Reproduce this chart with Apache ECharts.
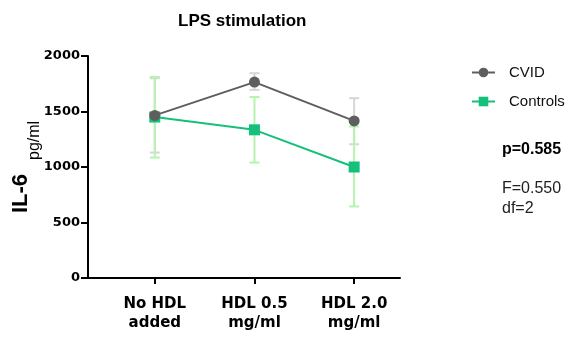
<!DOCTYPE html>
<html>
<head>
<meta charset="utf-8">
<script src="https://cdn.jsdelivr.net/npm/echarts@6/dist/echarts.min.js"></script>
<style>
  html, body { margin: 0; padding: 0; background: #fff; }
  #chart { width: 577px; height: 343px; }
</style>
</head>
<body>
<div id="chart"></div>
<script>
// 类别和数据
const categories = ["No HDL\nadded", "HDL 0.5\nmg/ml", "HDL 2.0\nmg/ml"];
const cvidMean = [1465, 1765, 1415];
const cvidLow = [1130, 1695, 1205];
const cvidHigh = [1800, 1845, 1620];
const ctrlMean = [1450, 1335, 1000];
const ctrlLow = [1085, 1040, 645];
const ctrlHigh = [1812, 1630, 1365];

const grey = "#5e5e5e";
const greyBar = "#d6d6d6";
const green = "#14c07a";
const greenBar = "#b6f3b0";

const chart = echarts.init(document.getElementById("chart"));

// 误差棒 (custom series)
function errorSeries(name, low, high, color) {
  return {
    type: "custom",
    name: name + "_err",
    z: 1,
    silent: true,
    data: low.map((v, i) => [i, v, high[i]]),
    renderItem: (params, api) => {
      const lo = api.coord([api.value(0), api.value(1)]);
      const hi = api.coord([api.value(0), api.value(2)]);
      const w = 5;
      const style = { stroke: color, lineWidth: 2, fill: null };
      return {
        type: "group",
        children: [
          { type: "line", shape: { x1: lo[0], y1: lo[1], x2: hi[0], y2: hi[1] }, style },
          { type: "line", shape: { x1: lo[0] - w, y1: lo[1], x2: lo[0] + w, y2: lo[1] }, style },
          { type: "line", shape: { x1: hi[0] - w, y1: hi[1], x2: hi[0] + w, y2: hi[1] }, style }
        ]
      };
    }
  };
}

const option = {
  animation: false,
  title: [
    {
      text: "LPS stimulation",
      left: 173,
      top: 8,
      textStyle: { fontFamily: "Liberation Sans", fontSize: 17, fontWeight: "bold", color: "#000" }
    },
    {
      text: "p=0.585",
      left: 497,
      top: 137,
      textStyle: { fontFamily: "Liberation Sans", fontSize: 16, fontWeight: "bold", color: "#000" }
    },
    {
      text: "F=0.550\ndf=2",
      left: 497,
      top: 174,
      textStyle: { fontFamily: "Liberation Sans", fontSize: 16, fontWeight: "normal", color: "#222", lineHeight: 20 }
    }
  ],
  legend: {
    orient: "vertical",
    left: 471,
    top: 65,
    padding: 0,
    itemGap: 14,
    itemWidth: 23,
    itemHeight: 12,
    data: ["CVID", "Controls"],
    textStyle: { fontFamily: "Liberation Sans", fontSize: 15, color: "#111", padding: [0, 0, 0, 9] }
  },
  grid: { left: 88, right: 177, top: 56, bottom: 65, outerBoundsMode: "none" },
  xAxis: {
    type: "value",
    min: -0.67,
    max: 2.46,
    splitLine: { show: false },
    axisLine: { show: true, onZero: false, lineStyle: { color: "#000", width: 2 } },
    axisTick: { show: true, length: 6, customValues: [0, 1, 2], lineStyle: { color: "#000", width: 2 } },
    axisLabel: {
      customValues: [0, 1, 2],
      formatter: v => categories[Math.round(v)],
      margin: 17,
      fontFamily: "DejaVu Sans",
      fontSize: 15,
      fontWeight: "bold",
      lineHeight: 19,
      color: "#000"
    }
  },
  yAxis: {
    type: "value",
    min: 0,
    max: 2000,
    interval: 500,
    splitLine: { show: false },
    axisLine: { show: true, onZero: false, lineStyle: { color: "#000", width: 2 } },
    axisTick: { show: true, length: 7, lineStyle: { color: "#000", width: 2 } },
    axisLabel: {
      margin: 8,
      formatter: v => String(v),
      fontFamily: "DejaVu Sans",
      fontSize: 13,
      fontWeight: "bold",
      color: "#000"
    },
    name: "{a|IL-6}{b|pg/ml}",
    nameLocation: "middle",
    nameRotate: 90,
    nameGap: 45,
    nameMoveOverlap: false,
    nameTextStyle: {
      rich: {
        a: { fontFamily: "Liberation Sans", fontSize: 22, fontWeight: "bold", color: "#000", lineHeight: 22, verticalAlign: "bottom", padding: [0, 0, 11, 0] },
        b: { fontFamily: "Liberation Sans", fontSize: 16, color: "#000", lineHeight: 16, verticalAlign: "bottom", padding: [0, 0, 0, 14] }
      }
    }
  },
  series: [
    errorSeries("CVID", cvidLow, cvidHigh, greyBar),
    errorSeries("Controls", ctrlLow, ctrlHigh, greenBar),
    {
      name: "Controls",
      type: "line",
      z: 3,
      data: ctrlMean.map((v, i) => [i, v]),
      symbol: "rect",
      symbolSize: 11,
      itemStyle: { color: green },
      lineStyle: { color: green, width: 2 }
    },
    {
      name: "CVID",
      type: "line",
      z: 4,
      data: cvidMean.map((v, i) => [i, v]),
      symbol: "circle",
      symbolSize: 11,
      itemStyle: { color: grey },
      lineStyle: { color: grey, width: 2 }
    }
  ]
};

chart.setOption(option);
</script>
</body>
</html>
